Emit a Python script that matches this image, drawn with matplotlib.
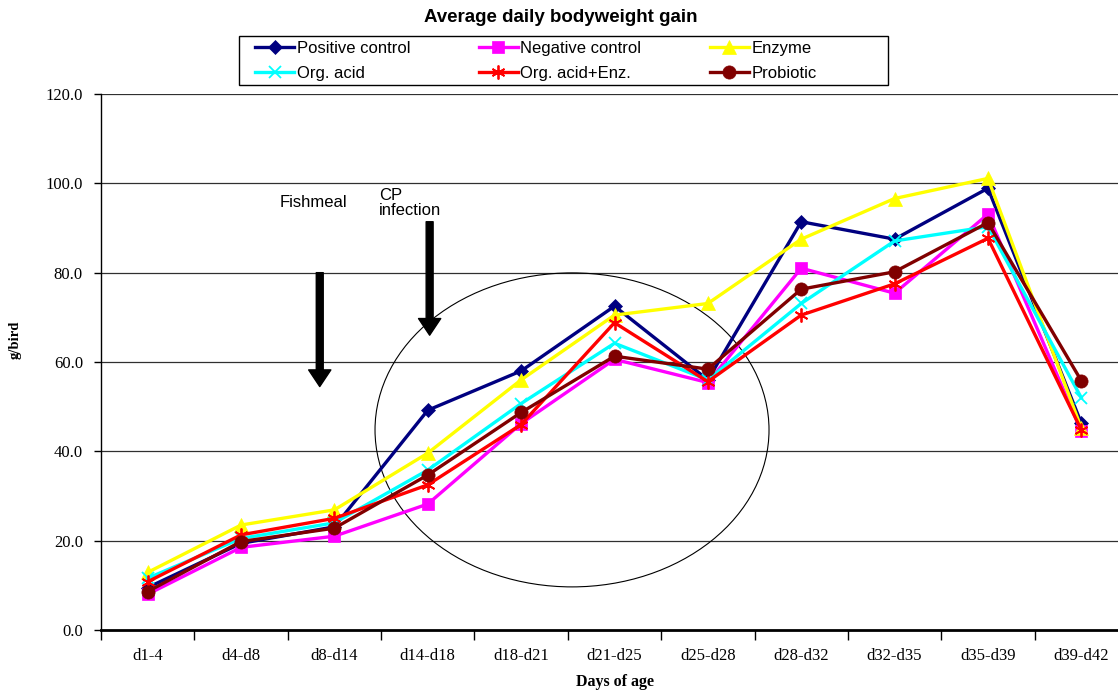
import matplotlib
matplotlib.use("Agg")
import matplotlib.pyplot as plt
from matplotlib.patches import Ellipse, Rectangle

# ---------------- data ----------------
categories = ['d1-4', 'd4-d8', 'd8-d14', 'd14-d18', 'd18-d21', 'd21-d25',
              'd25-d28', 'd28-d32', 'd32-d35', 'd35-d39', 'd39-d42']
positive_control = [9.5, 19.4, 23.1, 49.2, 58.0, 72.5, 56.0, 91.4, 87.5, 98.9, 46.3]
negative_control = [8.0, 18.5, 21.0, 28.2, 46.2, 60.6, 55.4, 81.0, 75.4, 93.1, 44.5]
enzyme = [12.9, 23.5, 26.9, 39.6, 56.0, 70.5, 73.1, 87.5, 96.6, 101.1, 45.2]
org_acid = [11.6, 20.5, 24.0, 35.8, 50.7, 64.2, 56.0, 73.1, 87.1, 90.3, 52.0]
org_acid_enz = [10.8, 21.3, 25.0, 32.5, 46.0, 68.8, 55.6, 70.5, 77.5, 87.7, 44.8]
probiotic = [8.6, 19.8, 22.8, 34.7, 48.7, 61.3, 58.4, 76.3, 80.2, 91.2, 55.8]
series_names = ['Positive control', 'Negative control', 'Enzyme',
                'Org. acid', 'Org. acid+Enz.', 'Probiotic']
y_ticks = [0, 20, 40, 60, 80, 100, 120]

series = [positive_control, negative_control, enzyme, org_acid, org_acid_enz, probiotic]
colors = ['#000080', '#FF00FF', '#FFFF00', '#00FFFF', '#FF0000', '#800000']
markers = ['D', 's', '^', 'x', (6, 2, 0), 'o']
msizes = [7, 9, 9.5, 9, 10, 9.5]

SANS = ['Liberation Sans', 'DejaVu Sans']
SERIF = ['Liberation Serif', 'DejaVu Serif']
W, H = 1118, 691

fig = plt.figure(figsize=(W / 100, H / 100), dpi=100)
ax = fig.add_axes([101 / W, 61 / H, 1027 / W, 536 / H])

x = list(range(len(categories)))
handles = []
for i, (vals, name) in enumerate(zip(series, series_names)):
    mk = markers[i]
    kw = dict(color=colors[i], lw=2.4, marker=mk, markersize=msizes[i],
              markerfacecolor=colors[i], markeredgecolor=colors[i], zorder=3 + i)
    kw['markeredgewidth'] = 1.3 if (mk == 'x' or isinstance(mk, tuple)) else 0.5
    h, = ax.plot(x, vals, label=name, clip_on=False, **kw)
    handles.append(h)

ax.set_xlim(-0.5, 10.5)
ax.set_ylim(0, 120)

# grid / spines
for yv in y_ticks[1:]:
    ax.axhline(yv, color='#303030', lw=0.9, zorder=1)
ax.spines['right'].set_visible(False)
ax.spines['top'].set_visible(False)
ax.spines['left'].set_linewidth(1.0)
ax.spines['bottom'].set_linewidth(2.0)

ax.set_yticks(y_ticks)
ax.set_yticklabels([f'{v:.1f}' for v in y_ticks], family=SERIF, fontsize=12)
ax.tick_params(axis='y', direction='out', length=5, width=1, pad=8)

ax.set_xticks(x)
ax.set_xticklabels(categories, family=SERIF, fontsize=12)
ax.set_xticks([i - 0.5 for i in range(len(categories) + 1)], minor=True)
ax.tick_params(axis='x', which='major', length=0, pad=13)
ax.tick_params(axis='x', which='minor', direction='out', length=7, width=1)

ax.set_xlabel('Days of age', family=SERIF, fontsize=11.5, fontweight='bold')
ax.xaxis.set_label_coords(0.5, (630 - 674) / 536)
fig.text(15 / W, 1 - 340 / H, 'g/bird', family=SERIF, fontsize=10.5, fontweight='bold',
         rotation=90, ha='center', va='center')

# circle
ell = Ellipse((4.545, 44.8), 4.22, 70.3, fill=False, edgecolor='black', lw=0.8, zorder=2)
ax.add_patch(ell)

# arrows
arrow_style = 'simple,head_width=16,head_length=12,tail_width=5'
ax.annotate('', xy=(1.843, 54.5), xytext=(1.843, 80.0),
            arrowprops=dict(arrowstyle=arrow_style, color='black', mutation_scale=1,
                            shrinkA=0, shrinkB=0), zorder=4)
ax.annotate('', xy=(3.02, 66.0), xytext=(3.02, 91.4),
            arrowprops=dict(arrowstyle=arrow_style, color='black', mutation_scale=1,
                            shrinkA=0, shrinkB=0), zorder=4)
ax.text(1.417, 95.8, 'Fishmeal', family=SANS, fontsize=12, ha='left', va='center')
ax.text(2.478, 95.5, 'CP\ninfection', family=SANS, fontsize=12, ha='left', va='center',
        linespacing=1.0)

# title
fig.text(561 / W, 1 - 17 / H, 'Average daily bodyweight gain', family=SANS,
         fontsize=13.5, fontweight='bold', ha='center', va='center')

# legend box drawn explicitly, entries in a frameless legend
fig.patches.append(Rectangle((239 / W, 1 - 85 / H), (888 - 239) / W, 49 / H,
                             transform=fig.transFigure, fill=True, facecolor='white',
                             edgecolor='black', lw=1.0, zorder=5))
order = [0, 3, 1, 4, 2, 5]
leg = fig.legend([handles[i] for i in order], [series_names[i] for i in order],
                 ncol=3, loc='upper left', bbox_to_anchor=(255 / W, 1 - 41 / H),
                 frameon=False, prop={'family': SANS, 'size': 12},
                 handlelength=2.35, handletextpad=0.15, columnspacing=4.1,
                 borderpad=0, labelspacing=0.6, borderaxespad=0)
leg.set_zorder(6)

fig.savefig('out.png', dpi=100)
